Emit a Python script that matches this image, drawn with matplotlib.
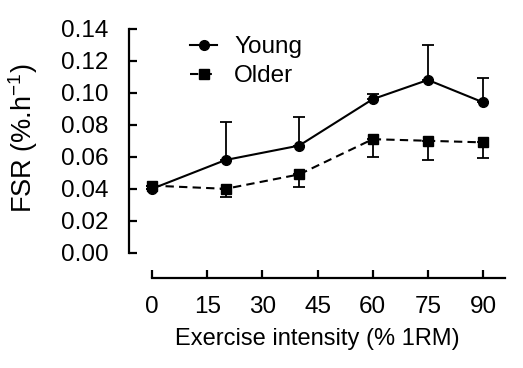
import numpy as np
import matplotlib.pyplot as plt
from matplotlib.lines import Line2D

plt.rcParams['font.family'] = ['Liberation Sans', 'DejaVu Sans']
plt.rcParams['mathtext.default'] = 'regular'

# data
intensity = [0, 20, 40, 60, 75, 90]
young = [0.040, 0.058, 0.067, 0.096, 0.108, 0.094]
young_err = [0.0, 0.024, 0.018, 0.003, 0.022, 0.015]
older = [0.042, 0.040, 0.049, 0.071, 0.070, 0.069]
older_err = [0.0, 0.005, 0.008, 0.011, 0.012, 0.010]

xticks = [0, 15, 30, 45, 60, 75, 90]
yticks = [0.00, 0.02, 0.04, 0.06, 0.08, 0.10, 0.12, 0.14]

FS = 17.5
dash = (0, (4, 2.5))

fig = plt.figure(figsize=(5.23, 3.68), dpi=100)
ax = fig.add_axes([0.247, 0.245, 0.719, 0.677])

zeros = np.zeros(len(intensity))
ax.errorbar(intensity, young, yerr=[zeros, young_err], color='black',
            linestyle='-', linewidth=1.5, marker='o', markersize=7,
            capsize=4, elinewidth=1.3, capthick=1.3)
ax.errorbar(intensity, older, yerr=[older_err, zeros], color='black',
            linestyle=dash, linewidth=1.5, marker='s', markersize=7,
            capsize=4, elinewidth=1.3, capthick=1.3)

ax.set_xlim(-6.2, 96)
ax.set_ylim(-0.0156, 0.14)
ax.set_xticks(xticks)
ax.set_yticks(yticks)
ax.set_yticklabels([f"{v:.2f}" for v in yticks])

for s in ['top', 'right']:
    ax.spines[s].set_visible(False)
ax.spines['left'].set_bounds(0, 0.14)
ax.spines['bottom'].set_bounds(0, 96)
ax.spines['left'].set_linewidth(1.6)
ax.spines['bottom'].set_linewidth(1.6)
ax.tick_params(direction='in', length=6, width=1.6, labelsize=FS)
ax.tick_params(axis='y', pad=15)
ax.tick_params(axis='x', pad=13)

ax.set_xlabel('Exercise intensity (% 1RM)', fontsize=17, labelpad=7)
ax.set_ylabel('FSR (%.h$^{-1}$)', fontsize=19.5)
# label sits centred on the drawn spine, not on the whole axes
ax.yaxis.set_label_coords(-0.237, 0.56)

handles = [
    Line2D([], [], color='black', linestyle='-', linewidth=1.5, marker='o', markersize=7),
    Line2D([], [], color='black', linestyle=dash, linewidth=1.5, marker='s', markersize=7),
]
ax.legend(handles, ['Young', 'Older'], loc='upper left', bbox_to_anchor=(0.15, 0.99),
          frameon=False, fontsize=FS, handlelength=1.1, handletextpad=0.7,
          labelspacing=0.3, borderaxespad=0, borderpad=0.2)

fig.savefig('out.png', dpi=100)
